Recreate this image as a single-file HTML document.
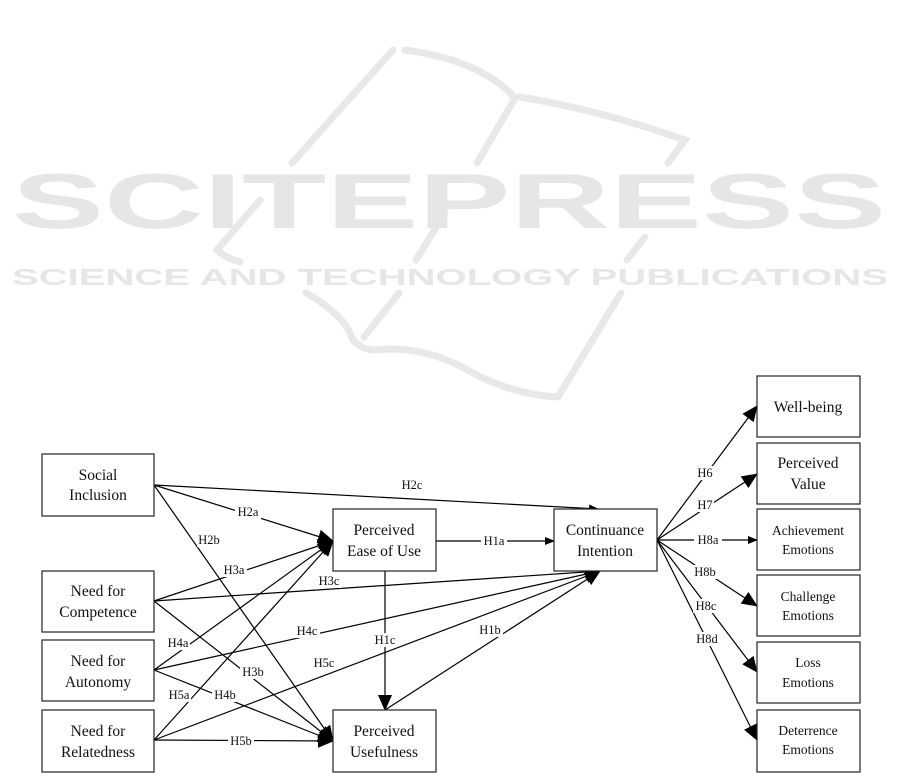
<!DOCTYPE html>
<html><head><meta charset="utf-8"><style>
html,body{margin:0;padding:0;background:#fff;}
svg{display:block;}
text{font-family:"Liberation Serif",serif;fill:#111;}
.b{font-size:15.5px;text-anchor:middle;}
.s{font-size:13.5px;text-anchor:middle;}
.l{font-size:12.5px;text-anchor:middle;}
.wm{font-family:"Liberation Sans",sans-serif;font-weight:bold;fill:#e6e6e6;}
</style></head><body>
<svg width="901" height="784" viewBox="0 0 901 784" xmlns="http://www.w3.org/2000/svg">
<defs>
<marker id="a" markerWidth="10" markerHeight="8" refX="9" refY="4" orient="auto" markerUnits="userSpaceOnUse">
<path d="M0,0 L10,4 L0,8 z" fill="#000"/></marker>
<marker id="A" markerWidth="16" markerHeight="14" refX="15" refY="7" orient="auto" markerUnits="userSpaceOnUse">
<path d="M0,0 L16,7 L0,14 z" fill="#000"/></marker>
</defs>
<!-- watermark -->
<g stroke="#e8e8e8" stroke-width="7" fill="none" stroke-linecap="round">
<path d="M393,50 L292,163"/>
<path d="M260,200 L217,250 Q225,258 240,262"/>
<path d="M405,50 Q480,60 514,97"/>
<path d="M514,100 L477,163"/>
<path d="M445,213 L416,260"/>
<path d="M399,293 L364,337"/>
<path d="M520,97 Q600,110 685,140 L668,163"/>
<path d="M645,237 L627,260"/>
<path d="M621,293 L558,397"/>
<path d="M306,293 Q345,315 353,340 Q362,350 375,350 Q420,345 462,367 Q510,395 558,397"/>
</g>
<text class="wm" x="12" y="228" font-size="78" textLength="874" lengthAdjust="spacingAndGlyphs">SCITEPRESS</text>
<text class="wm" x="12" y="285" font-size="23" textLength="876" lengthAdjust="spacingAndGlyphs">SCIENCE AND TECHNOLOGY PUBLICATIONS</text>

<g stroke="#000" stroke-width="1.2" fill="none">
<line x1="154" y1="485" x2="598" y2="509" marker-end="url(#a)"/>
<line x1="154" y1="485" x2="333" y2="541" marker-end="url(#A)"/>
<line x1="154" y1="485" x2="333" y2="741" marker-end="url(#A)"/>
<line x1="154" y1="601" x2="333" y2="541" marker-end="url(#A)"/>
<line x1="154" y1="601" x2="600" y2="571" marker-end="url(#A)"/>
<line x1="154" y1="601" x2="333" y2="741" marker-end="url(#A)"/>
<line x1="154" y1="670" x2="333" y2="541" marker-end="url(#A)"/>
<line x1="154" y1="670" x2="600" y2="571" marker-end="url(#A)"/>
<line x1="154" y1="670" x2="333" y2="741" marker-end="url(#A)"/>
<line x1="154" y1="740" x2="333" y2="541" marker-end="url(#A)"/>
<line x1="154" y1="740" x2="600" y2="571" marker-end="url(#A)"/>
<line x1="154" y1="740" x2="333" y2="741" marker-end="url(#A)"/>
<line x1="436" y1="541" x2="554" y2="541" marker-end="url(#a)"/>
<line x1="385" y1="571" x2="385" y2="710" marker-end="url(#A)"/>
<line x1="385" y1="710" x2="600" y2="571" marker-end="url(#A)"/>
<line x1="657" y1="540" x2="757" y2="406" marker-end="url(#A)"/>
<line x1="657" y1="540" x2="757" y2="474" marker-end="url(#A)"/>
<line x1="657" y1="540" x2="757" y2="540" marker-end="url(#a)"/>
<line x1="657" y1="540" x2="757" y2="606" marker-end="url(#A)"/>
<line x1="657" y1="540" x2="757" y2="672" marker-end="url(#A)"/>
<line x1="657" y1="540" x2="757" y2="740" marker-end="url(#A)"/>
</g>
<g fill="#fff" stroke="#222" stroke-width="1.2">
<rect x="42" y="454" width="112" height="62"/>
<rect x="42" y="571" width="112" height="61"/>
<rect x="42" y="640" width="112" height="61"/>
<rect x="42" y="710" width="112" height="62"/>
<rect x="333" y="509" width="103" height="62"/>
<rect x="333" y="710" width="103" height="62"/>
<rect x="554" y="509" width="103" height="62"/>
<rect x="757" y="376" width="103" height="61"/>
<rect x="757" y="443" width="103" height="61"/>
<rect x="757" y="509" width="103" height="61"/>
<rect x="757" y="575" width="103" height="61"/>
<rect x="757" y="642" width="103" height="61"/>
<rect x="757" y="710" width="103" height="62"/>
</g>
<g class="b">
<text x="98" y="480">Social</text><text x="98" y="500">Inclusion</text>
<text x="98" y="596">Need for</text><text x="98" y="617">Competence</text>
<text x="98" y="666">Need for</text><text x="98" y="687">Autonomy</text>
<text x="98" y="736">Need for</text><text x="98" y="757">Relatedness</text>
<text x="384" y="535">Perceived</text><text x="384" y="556">Ease of Use</text>
<text x="384" y="736">Perceived</text><text x="384" y="757">Usefulness</text>
<text x="605" y="535">Continuance</text><text x="605" y="556">Intention</text>
<text x="808" y="412">Well-being</text>
<text x="808" y="468">Perceived</text><text x="808" y="489">Value</text>
</g>
<g class="s">
<text x="808" y="535">Achievement</text><text x="808" y="554">Emotions</text>
<text x="808" y="601">Challenge</text><text x="808" y="620">Emotions</text>
<text x="808" y="667">Loss</text><text x="808" y="687">Emotions</text>
<text x="808" y="735">Deterrence</text><text x="808" y="754">Emotions</text>
</g>
<g class="l">
<g fill="#fff" stroke="none">
<rect x="235" y="505" width="26" height="14"/><rect x="197" y="533" width="24" height="14"/>
<rect x="221" y="563" width="26" height="14"/><rect x="316" y="574" width="26" height="14"/>
<rect x="240" y="665" width="26" height="14"/><rect x="166" y="636" width="24" height="14"/>
<rect x="294" y="624" width="26" height="14"/><rect x="212" y="688" width="26" height="14"/>
<rect x="167" y="688" width="24" height="14"/><rect x="311" y="656" width="26" height="14"/>
<rect x="228" y="734" width="26" height="14"/><rect x="481" y="534" width="26" height="14"/>
<rect x="373" y="633" width="25" height="14"/><rect x="477" y="623" width="26" height="14"/>
<rect x="696" y="466" width="18" height="14"/><rect x="696" y="498" width="18" height="14"/>
<rect x="694" y="533" width="28" height="14"/><rect x="692" y="565" width="27" height="14"/>
<rect x="693" y="599" width="27" height="14"/><rect x="693" y="632" width="28" height="14"/>
</g>
<text x="412" y="489">H2c</text>
<text x="248" y="516">H2a</text><text x="209" y="544">H2b</text>
<text x="234" y="574">H3a</text><text x="329" y="585">H3c</text>
<text x="253" y="676">H3b</text><text x="178" y="647">H4a</text>
<text x="307" y="635">H4c</text><text x="225" y="699">H4b</text>
<text x="179" y="699">H5a</text><text x="324" y="667">H5c</text>
<text x="241" y="745">H5b</text><text x="494" y="545">H1a</text>
<text x="385" y="644">H1c</text><text x="490" y="634">H1b</text>
<text x="705" y="477">H6</text><text x="705" y="509">H7</text>
<text x="708" y="544">H8a</text><text x="705" y="576">H8b</text>
<text x="706" y="610">H8c</text><text x="707" y="643">H8d</text>
</g>
</svg>
</body></html>
